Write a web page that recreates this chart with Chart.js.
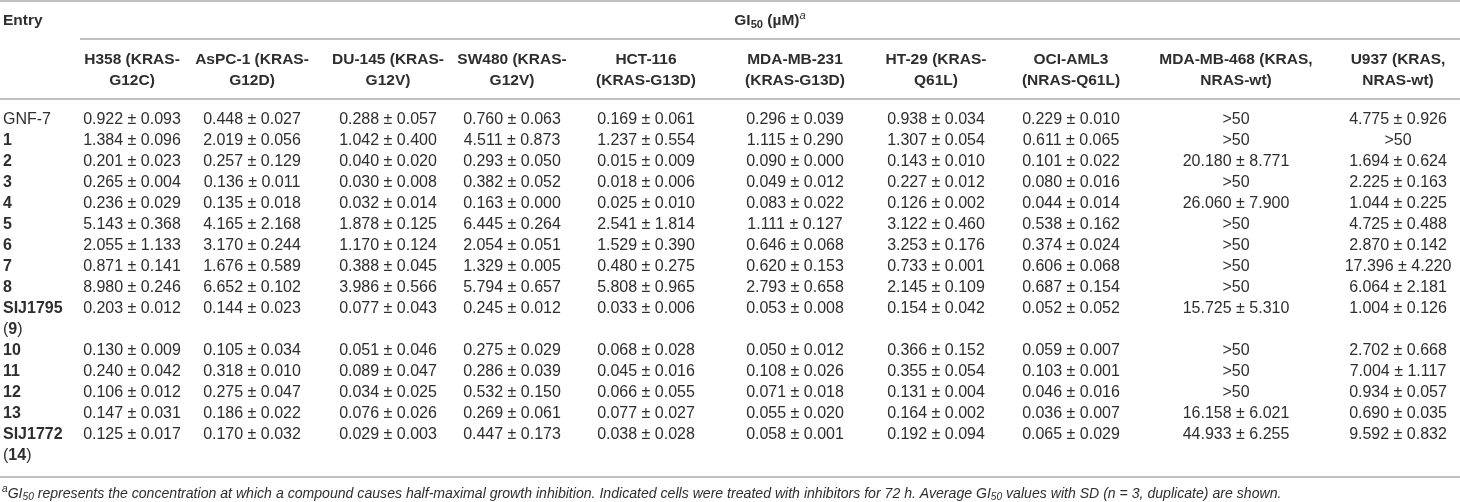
<!DOCTYPE html>
<html>
<head>
<meta charset="utf-8">
<script src="https://cdn.jsdelivr.net/npm/chart.js@4.4.1/dist/chart.umd.min.js"></script>
<style>
  html, body { margin: 0; padding: 0; background: #fff; }
  #tbl { display: block; width: 1460px; height: 502px; }
</style>
</head>
<body>
<canvas id="tbl" width="1460" height="502"></canvas>
<script>
// ---- data ----
const entries = ["GNF-7", "1", "2", "3", "4", "5", "6", "7", "8", "SIJ1795 (9)", "10", "11", "12", "13", "SIJ1772 (14)"];

const cellLines = [
  ["H358 (KRAS-", "G12C)"],
  ["AsPC-1 (KRAS-", "G12D)"],
  ["DU-145 (KRAS-", "G12V)"],
  ["SW480 (KRAS-", "G12V)"],
  ["HCT-116", "(KRAS-G13D)"],
  ["MDA-MB-231", "(KRAS-G13D)"],
  ["HT-29 (KRAS-", "Q61L)"],
  ["OCI-AML3", "(NRAS-Q61L)"],
  ["MDA-MB-468 (KRAS,", "NRAS-wt)"],
  ["U937 (KRAS,", "NRAS-wt)"],
];

const h358 = ["0.922 ± 0.093", "1.384 ± 0.096", "0.201 ± 0.023", "0.265 ± 0.004", "0.236 ± 0.029", "5.143 ± 0.368", "2.055 ± 1.133", "0.871 ± 0.141", "8.980 ± 0.246", "0.203 ± 0.012", "0.130 ± 0.009", "0.240 ± 0.042", "0.106 ± 0.012", "0.147 ± 0.031", "0.125 ± 0.017"];
const aspc1 = ["0.448 ± 0.027", "2.019 ± 0.056", "0.257 ± 0.129", "0.136 ± 0.011", "0.135 ± 0.018", "4.165 ± 2.168", "3.170 ± 0.244", "1.676 ± 0.589", "6.652 ± 0.102", "0.144 ± 0.023", "0.105 ± 0.034", "0.318 ± 0.010", "0.275 ± 0.047", "0.186 ± 0.022", "0.170 ± 0.032"];
const du145 = ["0.288 ± 0.057", "1.042 ± 0.400", "0.040 ± 0.020", "0.030 ± 0.008", "0.032 ± 0.014", "1.878 ± 0.125", "1.170 ± 0.124", "0.388 ± 0.045", "3.986 ± 0.566", "0.077 ± 0.043", "0.051 ± 0.046", "0.089 ± 0.047", "0.034 ± 0.025", "0.076 ± 0.026", "0.029 ± 0.003"];
const sw480 = ["0.760 ± 0.063", "4.511 ± 0.873", "0.293 ± 0.050", "0.382 ± 0.052", "0.163 ± 0.000", "6.445 ± 0.264", "2.054 ± 0.051", "1.329 ± 0.005", "5.794 ± 0.657", "0.245 ± 0.012", "0.275 ± 0.029", "0.286 ± 0.039", "0.532 ± 0.150", "0.269 ± 0.061", "0.447 ± 0.173"];
const hct116 = ["0.169 ± 0.061", "1.237 ± 0.554", "0.015 ± 0.009", "0.018 ± 0.006", "0.025 ± 0.010", "2.541 ± 1.814", "1.529 ± 0.390", "0.480 ± 0.275", "5.808 ± 0.965", "0.033 ± 0.006", "0.068 ± 0.028", "0.045 ± 0.016", "0.066 ± 0.055", "0.077 ± 0.027", "0.038 ± 0.028"];
const mdamb231 = ["0.296 ± 0.039", "1.115 ± 0.290", "0.090 ± 0.000", "0.049 ± 0.012", "0.083 ± 0.022", "1.111 ± 0.127", "0.646 ± 0.068", "0.620 ± 0.153", "2.793 ± 0.658", "0.053 ± 0.008", "0.050 ± 0.012", "0.108 ± 0.026", "0.071 ± 0.018", "0.055 ± 0.020", "0.058 ± 0.001"];
const ht29 = ["0.938 ± 0.034", "1.307 ± 0.054", "0.143 ± 0.010", "0.227 ± 0.012", "0.126 ± 0.002", "3.122 ± 0.460", "3.253 ± 0.176", "0.733 ± 0.001", "2.145 ± 0.109", "0.154 ± 0.042", "0.366 ± 0.152", "0.355 ± 0.054", "0.131 ± 0.004", "0.164 ± 0.002", "0.192 ± 0.094"];
const ociaml3 = ["0.229 ± 0.010", "0.611 ± 0.065", "0.101 ± 0.022", "0.080 ± 0.016", "0.044 ± 0.014", "0.538 ± 0.162", "0.374 ± 0.024", "0.606 ± 0.068", "0.687 ± 0.154", "0.052 ± 0.052", "0.059 ± 0.007", "0.103 ± 0.001", "0.046 ± 0.016", "0.036 ± 0.007", "0.065 ± 0.029"];
const mdamb468 = [">50", ">50", "20.180 ± 8.771", ">50", "26.060 ± 7.900", ">50", ">50", ">50", ">50", "15.725 ± 5.310", ">50", ">50", ">50", "16.158 ± 6.021", "44.933 ± 6.255"];
const u937 = ["4.775 ± 0.926", ">50", "1.694 ± 0.624", "2.225 ± 0.163", "1.044 ± 0.225", "4.725 ± 0.488", "2.870 ± 0.142", "17.396 ± 4.220", "6.064 ± 2.181", "1.004 ± 0.126", "2.702 ± 0.668", "7.004 ± 1.117", "0.934 ± 0.057", "0.690 ± 0.035", "9.592 ± 0.832"];

const columns = [h358, aspc1, du145, sw480, hct116, mdamb231, ht29, ociaml3, mdamb468, u937];

// ---- layout (table units) ----
const entryWidth = 80;
const colWidths = [104, 136, 136, 112, 156, 142, 140, 130, 200, 124];
const FONT = "'Liberation Sans', Arial, Helvetica, sans-serif";
const TEXT = "#2e2e2e";
const RULE = "#ababab";
const CELL_SIZE = 16;
const HEAD_SIZE = 15.5;
const NOTE_SIZE = 14.1;

const colCenters = [];
let acc = entryWidth;
colWidths.forEach(w => { colCenters.push(acc + w / 2); acc += w; });
const tableWidth = acc;

// an entry whose name has "(n)" wraps to a second line
const lineOf = [];
let line = 0;
entries.forEach(e => { lineOf.push(line); line += e.includes("(") ? 2 : 1; });

// draws text made of runs: {t, bold, italic, sup, sub}
function drawRuns(ctx, runs, x, y, size, align) {
  const fontFor = r => {
    const s = (r.sup || r.sub) ? size * 0.72 : size;
    return (r.italic ? "italic " : "") + (r.bold ? "bold " : "") + s + "px " + FONT;
  };
  let total = 0;
  runs.forEach(r => { ctx.font = fontFor(r); total += ctx.measureText(r.t).width; });
  let cx = align === "center" ? x - total / 2 : x;
  ctx.textAlign = "left";
  runs.forEach(r => {
    ctx.font = fontFor(r);
    const dy = r.sup ? -size * 0.35 : r.sub ? size * 0.25 : 0;
    ctx.fillText(r.t, cx, y + dy);
    cx += ctx.measureText(r.t).width;
  });
}

const tablePlugin = {
  id: "tableText",
  afterDatasetsDraw(chart) {
    const ctx = chart.ctx;
    const xs = chart.scales.x, ys = chart.scales.y;
    const area = chart.chartArea;
    const px = v => xs.getPixelForValue(v);
    ctx.save();
    ctx.fillStyle = TEXT;
    ctx.textBaseline = "middle";

    // rules
    ctx.strokeStyle = RULE;
    ctx.lineWidth = 1.6;
    const hline = (x0, x1, y) => { ctx.beginPath(); ctx.moveTo(x0, y); ctx.lineTo(x1, y); ctx.stroke(); };
    hline(px(0), px(tableWidth), area.top - 98);
    hline(px(entryWidth), px(tableWidth), area.top - 60);
    hline(px(0), px(tableWidth), area.top);
    hline(px(0), px(tableWidth), area.bottom);

    // header
    ctx.font = "bold " + HEAD_SIZE + "px " + FONT;
    ctx.textAlign = "left";
    ctx.fillText("Entry", px(3), area.top - 78);
    drawRuns(ctx, [
      { t: "GI", bold: true },
      { t: "50", bold: true, sub: true },
      { t: " (µM)", bold: true },
      { t: "a", italic: true, sup: true },
    ], (px(entryWidth) + px(tableWidth)) / 2, area.top - 78, HEAD_SIZE, "center");

    ctx.font = "bold " + HEAD_SIZE + "px " + FONT;
    ctx.textAlign = "center";
    cellLines.forEach((lbl, c) => {
      const x = px(colCenters[c]);
      ctx.fillText(lbl[0], x, area.top - 39);
      ctx.fillText(lbl[1], x, area.top - 18);
    });

    // entry labels
    entries.forEach((e, r) => {
      const y = ys.getPixelForValue(lineOf[r]);
      const m = e.match(/^(\S+) \((\d+)\)$/);
      ctx.textAlign = "left";
      if (m) {
        ctx.font = "bold " + CELL_SIZE + "px " + FONT;
        ctx.fillText(m[1], px(3), y);
        drawRuns(ctx, [{ t: "(" }, { t: m[2], bold: true }, { t: ")" }],
          px(3), ys.getPixelForValue(lineOf[r] + 1), CELL_SIZE, "left");
      } else {
        ctx.font = (/^\d+$/.test(e) ? "bold " : "") + CELL_SIZE + "px " + FONT;
        ctx.fillText(e, px(3), y);
      }
    });

    // cells
    ctx.font = CELL_SIZE + "px " + FONT;
    ctx.textAlign = "center";
    chart.data.datasets.forEach((ds, di) => {
      chart.getDatasetMeta(di).data.forEach((pt, i) => {
        ctx.fillText(ds.data[i].v, pt.x, pt.y);
      });
    });

    // footnote
    drawRuns(ctx, [
      { t: "a", italic: true, sup: true },
      { t: "GI", italic: true },
      { t: "50", italic: true, sub: true },
      { t: " represents the concentration at which a compound causes half-maximal growth inhibition. Indicated cells were treated with inhibitors for 72 h. Average GI", italic: true },
      { t: "50", italic: true, sub: true },
      { t: " values with SD (n = 3, duplicate) are shown.", italic: true },
    ], px(2), area.bottom + 17, NOTE_SIZE, "left");

    ctx.restore();
  }
};

new Chart(document.getElementById("tbl"), {
  type: "scatter",
  data: {
    datasets: columns.map((col, c) => ({
      label: cellLines[c].join(" "),
      data: col.map((v, r) => ({ x: colCenters[c], y: lineOf[r], v: v })),
      pointRadius: 0,
      pointHoverRadius: 0,
    })),
  },
  options: {
    responsive: false,
    animation: false,
    events: [],
    layout: { padding: { top: 99, bottom: 25, left: 0, right: 0 } },
    plugins: { legend: { display: false }, tooltip: { enabled: false } },
    scales: {
      x: { type: "linear", display: false, min: 0, max: tableWidth },
      y: { type: "linear", display: false, reverse: true, min: -1, max: 17 },
    },
  },
  plugins: [tablePlugin],
});
</script>
</body>
</html>
